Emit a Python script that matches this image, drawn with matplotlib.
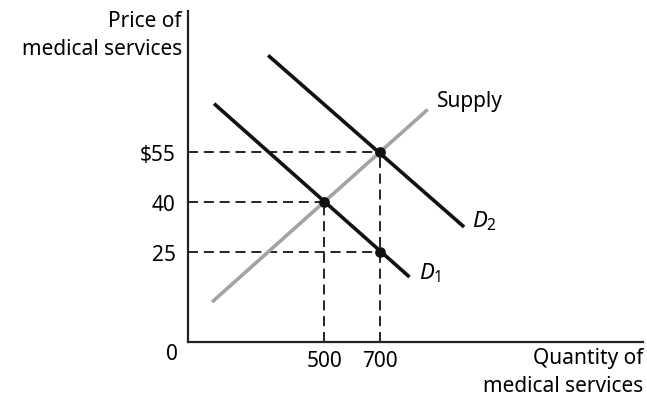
import matplotlib.pyplot as plt

plt.rcParams['font.family'] = ['Noto Sans', 'DejaVu Sans']
plt.rcParams['mathtext.fontset'] = 'custom'
plt.rcParams['mathtext.it'] = 'Noto Sans:italic'
plt.rcParams['mathtext.rm'] = 'Noto Sans'

# curves (quantity, price)
supply_q = [100, 870]
supply_p = [10, 67.75]
d1_q = [107, 805]
d1_p = [69.5, 17.5]
d2_q = [300, 1000]
d2_p = [84, 32.5]

# equilibrium points
eq_q = [500, 700, 700]
eq_p = [40, 55, 25]

price_ticks = [25, 40, 55]
price_labels = ['25', '40', '$55']
qty_ticks = [500, 700]
qty_labels = ['500', '700']

FS = 15

fig = plt.figure(figsize=(6.47, 4.02), dpi=100)
ax = fig.add_axes([0.2906, 0.1468, 0.7032, 0.8234])
ax.set_xlim(14, 1639)
ax.set_ylim(-2, 97.3)

# dashed guides
dash = dict(color='black', lw=1.2, dashes=(6, 3.5), zorder=1)
for q, p in zip(eq_q, eq_p):
    ax.plot([ax.get_xlim()[0], q], [p, p], **dash)
for q in qty_ticks:
    top = max(p for qq, p in zip(eq_q, eq_p) if qq == q)
    ax.plot([q, q], [ax.get_ylim()[0], top], **dash)

ax.plot(supply_q, supply_p, color='#a3a3a3', lw=2.6, solid_capstyle='butt', zorder=2)
ax.plot(d1_q, d1_p, color='#111111', lw=2.6, solid_capstyle='butt', zorder=3)
ax.plot(d2_q, d2_p, color='#111111', lw=2.6, solid_capstyle='butt', zorder=3)
ax.scatter(eq_q, eq_p, s=45, color='#111111', zorder=4)

ax.text(904, 70.5, 'Supply', fontsize=FS, va='center', ha='left')
ax.text(1030, 34.5, r'$D_2$', fontsize=16, va='center', ha='left')
ax.text(838, 18.8, r'$D_1$', fontsize=16, va='center', ha='left')

ax.set_yticks(price_ticks, price_labels)
ax.set_xticks(qty_ticks, qty_labels)
ax.tick_params(length=0, labelsize=FS, pad=6)
ax.tick_params(axis='y', pad=9)

for s in ['top', 'right']:
    ax.spines[s].set_visible(False)
for s in ['left', 'bottom']:
    ax.spines[s].set_linewidth(1.6)
    ax.spines[s].set_color('#222222')

fig.text(0.281, 0.972, 'Price of\nmedical services', ha='right', va='top',
         fontsize=FS, linespacing=1.4)
fig.text(0.994, 0.134, 'Quantity of\nmedical services', ha='right', va='top',
         fontsize=FS, linespacing=1.4)
fig.text(0.266, 0.117, '0', ha='center', va='center', fontsize=FS)

fig.savefig('out.png', dpi=100)
